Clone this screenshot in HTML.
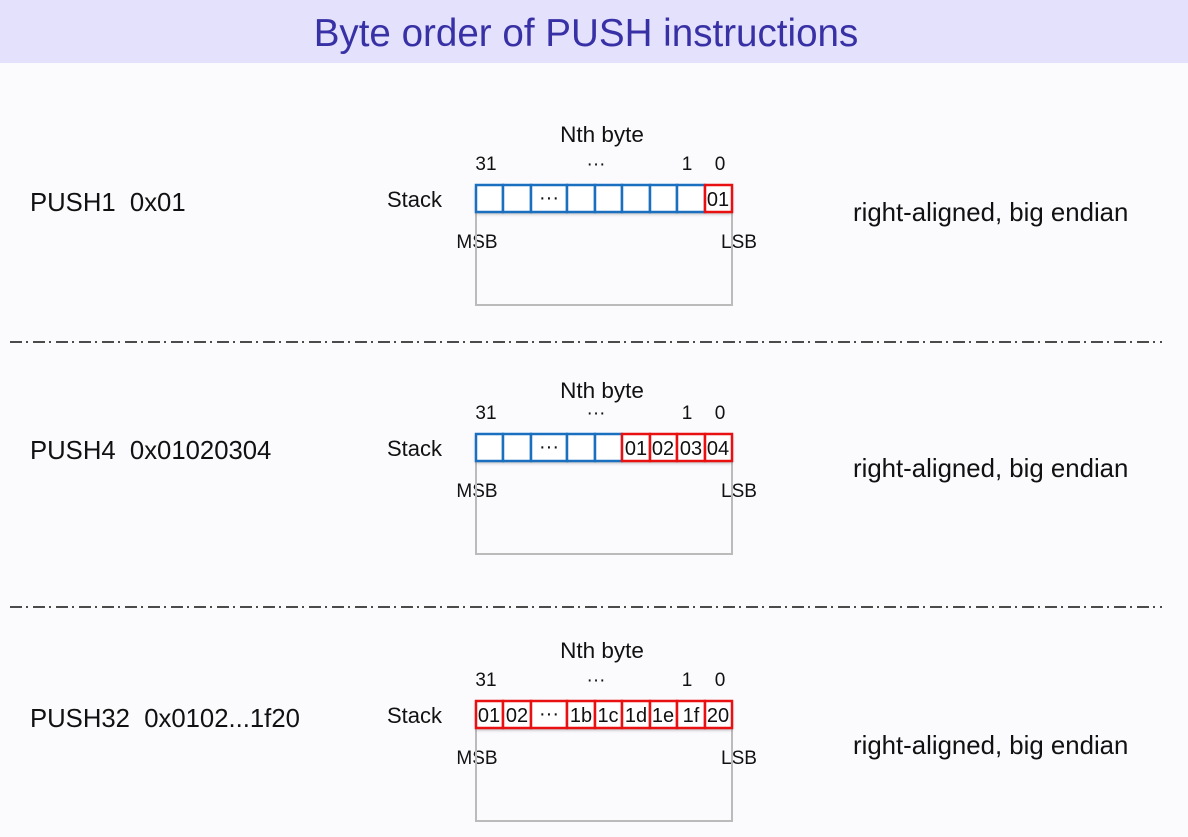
<!DOCTYPE html>
<html><head><meta charset="utf-8"><style>
html,body{margin:0;padding:0;background:#fbfbfe;}
svg{display:block;font-family:"Liberation Sans",Arial,sans-serif;}
</style></head><body>
<svg width="1188" height="837" viewBox="0 0 1188 837" xmlns="http://www.w3.org/2000/svg">
<rect x="0" y="0" width="1188" height="837" fill="#fbfbfe"/>
<rect x="0" y="0" width="1188" height="63" fill="#e4e1fc"/>
<text x="586" y="46" font-size="38.6" fill="#3831a6" text-anchor="middle">Byte order of PUSH instructions</text>
<line x1="10" y1="342" x2="1162" y2="342" stroke="#111" stroke-width="1.5" stroke-dasharray="12,4,2,5"/>
<line x1="10" y1="607" x2="1162" y2="607" stroke="#111" stroke-width="1.5" stroke-dasharray="12,4,2,5"/>

<defs>
<filter id="sh" x="-5%" y="-30%" width="110%" height="160%"><feDropShadow dx="0" dy="2" stdDeviation="1.5" flood-color="#000" flood-opacity="0.3"/></filter>
</defs>

<g font-size="25.7" fill="#111">
<text x="30" y="211">PUSH1&#160; 0x01</text>
<text x="30" y="459">PUSH4&#160; 0x01020304</text>
<text x="30" y="727">PUSH32&#160; 0x0102...1f20</text>
</g>
<g font-size="25.8" fill="#111">
<text x="853" y="221">right-aligned, big endian</text>
<text x="853" y="477">right-aligned, big endian</text>
<text x="853" y="754">right-aligned, big endian</text>
</g>

<g font-size="22" fill="#111">
<text x="387" y="207">Stack</text>
<text x="387" y="456">Stack</text>
<text x="387" y="723">Stack</text>
</g>
<g font-size="22.5" fill="#111" text-anchor="middle">
<text x="602" y="142">Nth byte</text>
<text x="602" y="398">Nth byte</text>
<text x="602" y="658">Nth byte</text>
</g>
<g font-size="19" fill="#111" text-anchor="middle">
<text x="486" y="170">31</text><text x="596" y="170">···</text><text x="687" y="170">1</text><text x="720" y="170">0</text>
<text x="486" y="419">31</text><text x="596" y="419">···</text><text x="687" y="419">1</text><text x="720" y="419">0</text>
<text x="486" y="686">31</text><text x="596" y="686">···</text><text x="687" y="686">1</text><text x="720" y="686">0</text>
<text x="477" y="248">MSB</text><text x="739" y="248">LSB</text>
<text x="477" y="497">MSB</text><text x="739" y="497">LSB</text>
<text x="477" y="764">MSB</text><text x="739" y="764">LSB</text>
</g>

<g fill="none" stroke="#bbb" stroke-width="2">
<rect x="476" y="186" width="256" height="119"/>
<rect x="476" y="435" width="256" height="119"/>
<rect x="476" y="702" width="256" height="119"/>
</g>

<g filter="url(#sh)"><rect x="476" y="185" width="256" height="27" fill="#fff"/></g>
<g fill="#fff" stroke="#1a6fbf" stroke-width="2.5">
<rect x="476" y="185" width="27" height="27"/><rect x="503" y="185" width="28" height="27"/><rect x="531" y="185" width="36" height="27"/><rect x="567" y="185" width="28" height="27"/><rect x="595" y="185" width="27" height="27"/><rect x="622" y="185" width="28" height="27"/><rect x="650" y="185" width="27" height="27"/><rect x="677" y="185" width="28" height="27"/>
</g>
<rect x="705" y="185" width="27" height="27" fill="#fff" stroke="#e81010" stroke-width="2.5"/>
<g font-size="20" fill="#111" text-anchor="middle">
<text x="549" y="204">···</text><text x="718" y="206">01</text>
</g>

<g filter="url(#sh)"><rect x="476" y="434" width="256" height="27" fill="#fff"/></g>
<g fill="#fff" stroke="#1a6fbf" stroke-width="2.5">
<rect x="476" y="434" width="27" height="27"/><rect x="503" y="434" width="28" height="27"/><rect x="531" y="434" width="36" height="27"/><rect x="567" y="434" width="28" height="27"/><rect x="595" y="434" width="27" height="27"/>
</g>
<g fill="#fff" stroke="#e81010" stroke-width="2.5">
<rect x="622" y="434" width="28" height="27"/><rect x="650" y="434" width="27" height="27"/><rect x="677" y="434" width="28" height="27"/><rect x="705" y="434" width="27" height="27"/>
</g>
<g font-size="20" fill="#111" text-anchor="middle">
<text x="549" y="453">···</text><text x="636" y="455">01</text><text x="663" y="455">02</text><text x="691" y="455">03</text><text x="718" y="455">04</text>
</g>

<g filter="url(#sh)"><rect x="476" y="701" width="256" height="27" fill="#fff"/></g>
<g fill="#fff" stroke="#e81010" stroke-width="2.5">
<rect x="476" y="701" width="27" height="27"/><rect x="503" y="701" width="28" height="27"/><rect x="531" y="701" width="36" height="27"/><rect x="567" y="701" width="28" height="27"/><rect x="595" y="701" width="27" height="27"/><rect x="622" y="701" width="28" height="27"/><rect x="650" y="701" width="27" height="27"/><rect x="677" y="701" width="28" height="27"/><rect x="705" y="701" width="27" height="27"/>
</g>
<g font-size="20" fill="#111" text-anchor="middle">
<text x="489" y="722">01</text><text x="517" y="722">02</text><text x="549" y="720">···</text><text x="581" y="722">1b</text><text x="608" y="722">1c</text><text x="636" y="722">1d</text><text x="663" y="722">1e</text><text x="691" y="722">1f</text><text x="718" y="722">20</text>
</g>
</svg>
</body></html>
